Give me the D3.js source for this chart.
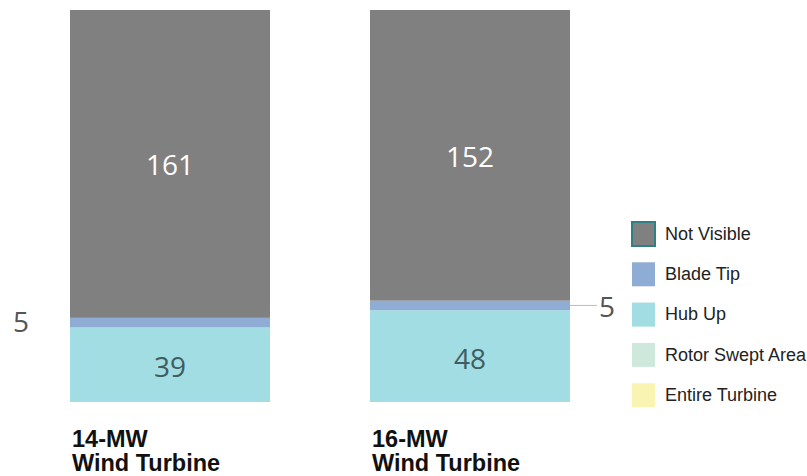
<!DOCTYPE html>
<html><head><meta charset="utf-8">
<script src="https://cdn.jsdelivr.net/npm/d3@7"></script>
<style>body{margin:0;background:#fff}svg{display:block}</style>
</head><body>
<svg id="c" width="807" height="476"></svg>
<script>
const categories = ["14-MW Wind Turbine", "16-MW Wind Turbine"];
const catLine1 = ["14-MW", "16-MW"];
const catLine2 = ["Wind Turbine", "Wind Turbine"];
const seriesNames = ["Entire Turbine", "Rotor Swept Area", "Hub Up", "Blade Tip", "Not Visible"];
const entireTurbine = [0, 0];
const rotorSwept = [0, 0];
const hubUp = [39, 48];
const bladeTip = [5, 5];
const notVisible = [161, 152];
const legendOrder = ["Not Visible", "Blade Tip", "Hub Up", "Rotor Swept Area", "Entire Turbine"];
const colors = {"Not Visible":"#808080","Blade Tip":"#8eacd4","Hub Up":"#a2dde3","Rotor Swept Area":"#cfe8dc","Entire Turbine":"#faf4b3"};

const svg = d3.select("#c");
const rows = categories.map((c,i)=>({cat:c, "Entire Turbine":entireTurbine[i], "Rotor Swept Area":rotorSwept[i], "Hub Up":hubUp[i], "Blade Tip":bladeTip[i], "Not Visible":notVisible[i]}));
const stack = d3.stack().keys(seriesNames)(rows);
const total = d3.max(rows, r => seriesNames.reduce((s,k)=>s+r[k],0));

const x = d3.scaleBand().domain(categories).range([20,620]).paddingInner(1/3).paddingOuter(1/6);
const y = d3.scaleLinear().domain([0,total]).range([402,10]);

stack.forEach(layer=>{
  svg.append("g").selectAll("rect").data(layer).join("rect")
    .attr("x", d=>x(d.data.cat)).attr("width", x.bandwidth())
    .attr("y", d=>y(d[1])).attr("height", d=>y(d[0])-y(d[1]))
    .attr("fill", colors[layer.key]);
});

const font = "'Open Sans', sans-serif";
const nv = stack.find(l=>l.key==="Not Visible");
svg.append("g").selectAll("text").data(nv).join("text")
  .attr("x", d=>x(d.data.cat)+x.bandwidth()/2).attr("y", d=>(y(d[0])+y(d[1]))/2+4)
  .attr("text-anchor","middle").attr("dominant-baseline","middle")
  .attr("font-family",font).attr("font-size",28).attr("fill","#ffffff").text(d=>d[1]-d[0]);
const hu = stack.find(l=>l.key==="Hub Up");
svg.append("g").selectAll("text").data(hu).join("text")
  .attr("x", d=>x(d.data.cat)+x.bandwidth()/2).attr("y", d=>(y(d[0])+y(d[1]))/2+5)
  .attr("text-anchor","middle").attr("dominant-baseline","middle")
  .attr("font-family",font).attr("font-size",28).attr("fill","#3f5c62").text(d=>d[1]-d[0]);
const bt = stack.find(l=>l.key==="Blade Tip");
const d0 = bt[0];
svg.append("text").attr("x", x(d0.data.cat)-57).attr("y", (y(d0[0])+y(d0[1]))/2+2)
  .attr("dominant-baseline","middle").attr("font-family",font).attr("font-size",28).attr("fill","#555")
  .text(d0[1]-d0[0]);
const d1 = bt[1];
const yb = (y(d1[0])+y(d1[1]))/2;
svg.append("line").attr("x1", x(d1.data.cat)+x.bandwidth()).attr("x2", x(d1.data.cat)+x.bandwidth()+27)
  .attr("y1", yb).attr("y2", yb).attr("stroke","#bbb").attr("stroke-width",1);
svg.append("text").attr("x", x(d1.data.cat)+x.bandwidth()+29).attr("y", yb+4)
  .attr("dominant-baseline","middle").attr("font-family",font).attr("font-size",28).attr("fill","#555")
  .text(d1[1]-d1[0]);

categories.forEach((c,i)=>{
  const t = svg.append("text")
    .attr("font-family","'Liberation Sans', Arial, sans-serif").attr("font-weight","bold")
    .attr("font-size",23.5).attr("fill","#111");
  t.append("tspan").attr("x", x(c)+2).attr("y",447).text(catLine1[i]);
  t.append("tspan").attr("x", x(c)+2).attr("y",471).text(catLine2[i]);
});

const lg = svg.append("g").attr("transform","translate(632,222)");
legendOrder.forEach((k,i)=>{
  const g = lg.append("g").attr("transform",`translate(0,${i*40.3})`);
  g.append("rect").attr("width",23).attr("height",24).attr("fill",colors[k])
    .attr("stroke", k==="Not Visible" ? "#2f7f86" : "none").attr("stroke-width",k==="Not Visible"?2:0);
  g.append("text").attr("x",33).attr("y",13).attr("dominant-baseline","middle")
    .attr("font-family","'Liberation Sans', Arial, sans-serif").attr("font-size",18).attr("fill","#222").text(k);
});
</script>
</body></html>
